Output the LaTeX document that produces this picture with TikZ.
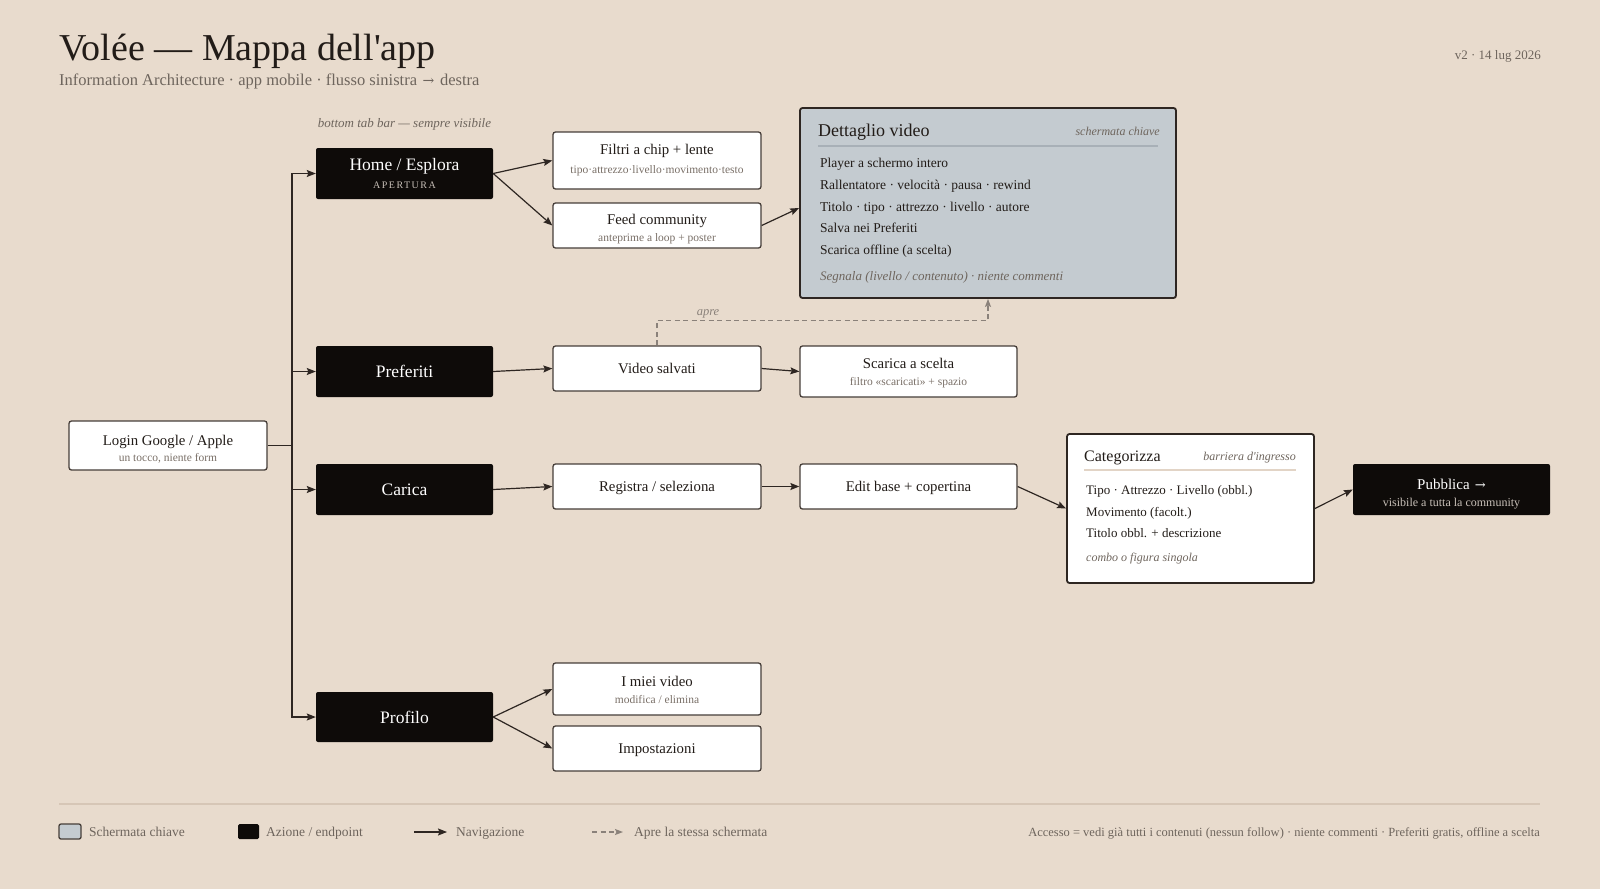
\documentclass[tikz,border=0pt]{standalone}
\usepackage{fontspec}
\setmainfont{Liberation Serif}[Ligatures=TeXOff]
\newfontfamily\spacedfont{Liberation Serif}[LetterSpace=15,Ligatures=TeXOff]
\newfontfamily\arrf{DejaVu Serif}
\usetikzlibrary{arrows.meta}
\definecolor{bgc}{RGB}{232,219,205}
\definecolor{darkc}{RGB}{14,11,9}
\definecolor{bordc}{RGB}{70,62,57}
\definecolor{linec}{RGB}{46,38,34}
\definecolor{textc}{RGB}{34,28,24}
\definecolor{greyc}{RGB}{110,101,93}
\definecolor{subc}{RGB}{122,112,104}
\definecolor{keyc}{RGB}{196,203,208}
\definecolor{keyline}{RGB}{168,176,183}
\definecolor{dashc}{RGB}{138,129,122}
\definecolor{footline}{RGB}{214,198,182}
\definecolor{catline}{RGB}{226,212,198}
\definecolor{lightc}{RGB}{200,192,184}
\newcommand{\fsz}[1]{\fontsize{#1}{#1}\selectfont}
\newcommand{\rarr}[1]{\hspace{1.5pt}{\arrf\fontsize{#1}{#1}\selectfont →}}
\begin{document}
\begin{tikzpicture}[x=1pt,y=-1pt,
  wbox/.style={draw=bordc, fill=white, line width=1.3pt, rounded corners=2.5pt, inner sep=0pt},
  dbox/.style={fill=darkc, rounded corners=2pt, inner sep=0pt},
  keybox/.style={draw=linec, fill=keyc, line width=1.8pt, rounded corners=2.5pt, inner sep=0pt},
  conn/.style={draw=linec, line width=1.2pt, -{Stealth[length=9pt,width=7pt,inset=1.5pt]}},
  plainline/.style={draw=linec, line width=1.2pt},
  dconn/.style={draw=dashc, line width=1.2pt, dash pattern=on 5pt off 3.5pt, -{Stealth[length=8pt,width=6pt,inset=1.5pt]}},
  txt/.style={inner sep=0pt, text=textc},
  ttl/.style={txt, anchor=base, font=\fsz{14.8}},
  sub/.style={inner sep=0pt, anchor=base, text=subc, font=\fsz{11.5}},
  wtxt/.style={inner sep=0pt, anchor=base, text=white, font=\fsz{17.5}},
  itm/.style={txt, anchor=base west, font=\fsz{13.5}},
  itl/.style={inner sep=0pt, text=greyc, font=\fsz{12}\itshape},
  leg/.style={inner sep=0pt, text=greyc, font=\fsz{13.5}, anchor=base west}
]
\useasboundingbox[fill=bgc] (0,0) rectangle (1600,889);

% header
\node[txt, anchor=base west, font=\fsz{38}] (title) at (59,60) {Volée — Mappa dell'app};
\node[inner sep=0pt, text=greyc, anchor=base west, font=\fsz{16.5}] (subtitle) at (59,85) {Information Architecture · app mobile · flusso sinistra \rarr{14}\hspace{1.5pt} destra};
\node[inner sep=0pt, text=greyc, anchor=base east, font=\fsz{13}] (version) at (1541,59.5) {v2 · 14 lug 2026};
\node[itl, anchor=base, font=\fsz{13}\itshape] (tabbar) at (404.5,127) {bottom tab bar — sempre visibile};

% boxes
\node[wbox, minimum width=198pt, minimum height=49pt] (login) at (168,445.5) {};
\node[dbox, minimum width=177pt, minimum height=51pt] (home) at (404.5,173.5) {};
\node[dbox, minimum width=177pt, minimum height=51pt] (pref) at (404.5,371.5) {};
\node[dbox, minimum width=177pt, minimum height=51pt] (carica) at (404.5,489.5) {};
\node[dbox, minimum width=177pt, minimum height=50pt] (profilo) at (404.5,717) {};

\node[wbox, minimum width=208pt, minimum height=57pt] (filtri) at (657,160.5) {};
\node[wbox, minimum width=208pt, minimum height=45pt] (feed) at (657,225.5) {};
\node[wbox, minimum width=208pt, minimum height=45pt] (vsalv) at (657,368.5) {};
\node[wbox, minimum width=208pt, minimum height=45pt] (registra) at (657,486.5) {};
\node[wbox, minimum width=208pt, minimum height=52pt] (imiei) at (657,689) {};
\node[wbox, minimum width=208pt, minimum height=45pt] (impost) at (657,748.5) {};

\node[wbox, minimum width=217pt, minimum height=51pt] (scarica) at (908.5,371.5) {};
\node[wbox, minimum width=217pt, minimum height=45pt] (edit) at (908.5,486.5) {};
\node[keybox, minimum width=376pt, minimum height=190pt] (det) at (988,203) {};
\node[wbox, line width=1.8pt, draw=linec, minimum width=247pt, minimum height=149pt] (cat) at (1190.5,508.5) {};
\node[dbox, minimum width=197pt, minimum height=51pt] (pubb) at (1451.5,489.5) {};

% box texts
\node[ttl] (loginT) at (168,445) {Login Google / Apple};
\node[sub] (loginS) at (168,461.5) {un tocco, niente form};

\node[wtxt] (homeT) at (404.5,170.5) {Home / Esplora};
\node[inner sep=0pt, anchor=base, text=lightc, font=\spacedfont\fsz{10}] (homeS) at (404.5,188) {APERTURA};
\node[wtxt] (prefT) at (404.5,377.5) {Preferiti};
\node[wtxt] (caricaT) at (404.5,495.5) {Carica};
\node[wtxt] (profiloT) at (404.5,723) {Profilo};

\node[ttl] (filtriT) at (657,154) {Filtri a chip + lente};
\node[sub] (filtriS) at (657,173.5) {tipo·attrezzo·livello·movimento·testo};
\node[ttl] (feedT) at (657,224) {Feed community};
\node[sub] (feedS) at (657,241.5) {anteprime a loop + poster};
\node[ttl] (vsalvT) at (657,373.5) {Video salvati};
\node[ttl] (registraT) at (657,491.5) {Registra / seleziona};
\node[ttl] (imieiT) at (657,686) {I miei video};
\node[sub] (imieiS) at (657,703.5) {modifica / elimina};
\node[ttl] (impostT) at (657,753.5) {Impostazioni};

\node[ttl] (scaricaT) at (908.5,368) {Scarica a scelta};
\node[sub] (scaricaS) at (908.5,385.5) {filtro «scaricati» + spazio};
\node[ttl] (editT) at (908.5,491.5) {Edit base + copertina};

% dettaglio contents
\node[txt, anchor=base west, font=\fsz{18}] (detT) at (818,136) {Dettaglio video};
\node[itl, anchor=base east] (detK) at (1160,135) {schermata chiave};
\coordinate (detL1) at (818,146);
\coordinate (detL2) at (1158,146);
\draw[draw=keyline, line width=1.2pt] (detL1) -- (detL2);
\node[itm] (d1) at (820,167.5) {Player a schermo intero};
\node[itm] (d2) at (820,189.5) {Rallentatore · velocità · pausa · rewind};
\node[itm] (d3) at (820,211) {Titolo · tipo · attrezzo · livello · autore};
\node[itm] (d4) at (820,232.5) {Salva nei Preferiti};
\node[itm] (d5) at (820,254.5) {Scarica offline (a scelta)};
\node[itl, anchor=base west, font=\fsz{13}\itshape] (d6) at (820,280) {Segnala (livello / contenuto) · niente commenti};

% categorizza contents
\node[txt, anchor=base west, font=\fsz{16}] (catT) at (1084,461) {Categorizza};
\node[itl, anchor=base east] (catK) at (1296,460) {barriera d'ingresso};
\coordinate (catL1) at (1084,470);
\coordinate (catL2) at (1296,470);
\draw[draw=catline, line width=1.6pt] (catL1) -- (catL2);
\node[itm, font=\fsz{13}] (c1) at (1086,494.5) {Tipo · Attrezzo · Livello (obbl.)};
\node[itm, font=\fsz{13}] (c2) at (1086,516) {Movimento (facolt.)};
\node[itm, font=\fsz{13}] (c3) at (1086,537.5) {Titolo obbl. + descrizione};
\node[itl, anchor=base west] (c4) at (1086,561) {combo o figura singola};

% pubblica
\node[inner sep=0pt, anchor=base, text=white, font=\fsz{15}] (pubbT) at (1451.5,489) {Pubblica \rarr{13}};
\node[inner sep=0pt, anchor=base, text=lightc, font=\fsz{12}] (pubbS) at (1451.5,506.5) {visibile a tutta la community};

% connectors
\coordinate (sp) at (292,445.5);
\draw[plainline] (login.east) -- (sp);
\draw[conn] (sp) |- (home.west);
\draw[conn] (sp) |- (pref.west);
\draw[conn] (sp) |- (carica.west);
\draw[conn] (sp) |- (profilo.west);

\draw[conn] (home.east) -- (filtri.west);
\draw[conn] (home.east) -- (feed.west);
\draw[conn] (feed.east) -- ([yshift=-5pt]det.west);
\draw[conn] (pref.east) -- (vsalv.west);
\draw[conn] (vsalv.east) -- (scarica.west);
\draw[conn] (carica.east) -- (registra.west);
\draw[conn] (registra.east) -- (edit.west);
\draw[conn] (edit.east) -- (cat.west);
\draw[conn] (cat.east) -- (pubb.west);
\draw[conn] (profilo.east) -- (imiei.west);
\draw[conn] (profilo.east) -- (impost.west);

\draw[dconn] (vsalv.north) -- ++(0,-25) -| (det.south);
\node[itl, anchor=base, font=\fsz{12.5}\itshape, text=dashc] (apre) at (708,315) {apre};

% footer
\coordinate (fl1) at (59,804);
\coordinate (fl2) at (1540,804);
\draw[draw=footline, line width=1.3pt] (fl1) -- (fl2);
\node[draw=bordc, fill=keyc, line width=1.3pt, rounded corners=2pt, minimum width=22pt, minimum height=15pt, inner sep=0pt] (lg1) at (70,831.5) {};
\node[leg] (lg1T) at (89,836.5) {Schermata chiave};
\node[fill=darkc, rounded corners=1.5pt, minimum width=21pt, minimum height=15pt, inner sep=0pt] (lg2) at (248.5,831.5) {};
\node[leg] (lg2T) at (266,836.5) {Azione / endpoint};
\coordinate (la1) at (414,832);
\coordinate (la2) at (447,832);
\draw[conn] (la1) -- (la2);
\node[leg] (lg3T) at (456,836.5) {Navigazione};
\coordinate (lb1) at (592,832);
\coordinate (lb2) at (623,832);
\draw[dconn] (lb1) -- (lb2);
\node[leg] (lg4T) at (634,836.5) {Apre la stessa schermata};
\node[inner sep=0pt, text=greyc, font=\fsz{12.5}, anchor=base east] (note) at (1540,836) {Accesso = vedi già tutti i contenuti (nessun follow) · niente commenti · Preferiti gratis, offline a scelta};
\end{tikzpicture}
\end{document}
